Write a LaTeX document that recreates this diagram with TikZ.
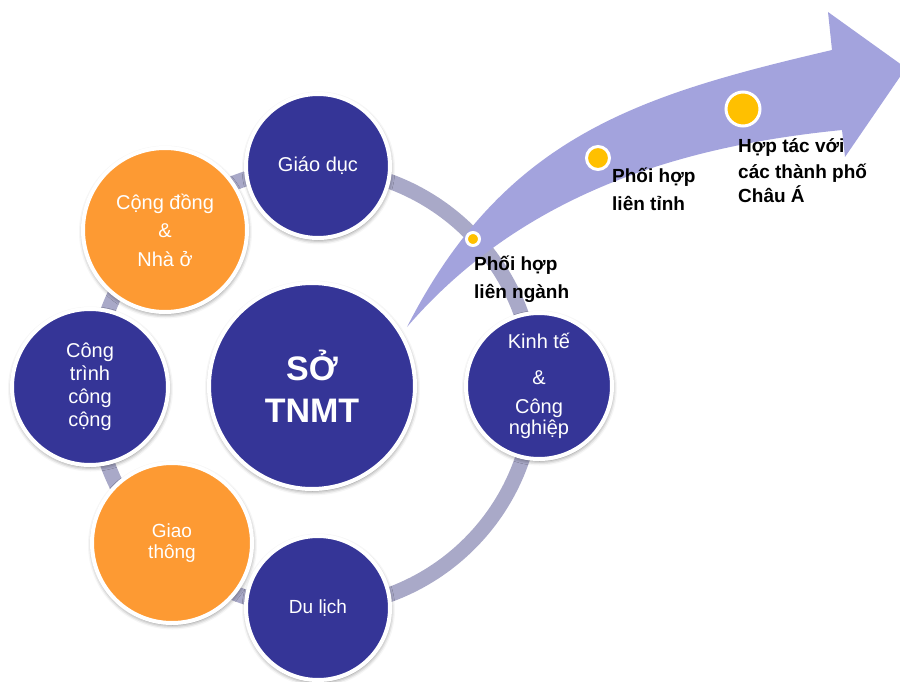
\documentclass[tikz,border=0pt]{standalone}
\usepackage{fontspec}
\setmainfont{Liberation Sans}
\usetikzlibrary{shadows.blur}
\definecolor{navy}{HTML}{353597}
\definecolor{orangec}{HTML}{FD9A33}
\definecolor{ringc}{HTML}{A9A9C8}
\definecolor{arrowc}{HTML}{A3A3DD}
\definecolor{dotc}{HTML}{FFC000}
\begin{document}
\begin{tikzpicture}[x=1pt,y=-1pt,
  bubble/.style={circle, draw=white, line width=4pt, text=white, align=center,
    inner sep=0pt,
    blur shadow={shadow xshift=0.5pt, shadow yshift=-2pt, shadow blur radius=4.5pt, shadow opacity=55}},
  bluebub/.style={bubble, fill=navy},
  orangebub/.style={bubble, fill=orangec},
  lab/.style={font=\fontsize{20}{23}\selectfont},
  point/.style={circle, fill=dotc, draw=white, inner sep=0pt},
  tag/.style={anchor=west, align=left, text=black, inner sep=0pt,
    font=\fontsize{19}{28}\bfseries\selectfont}]
\useasboundingbox (0,0) rectangle (900,682);
\clip (0,0) rectangle (900,682);

% ring linking the satellite bubbles
\draw[ringc, line width=15pt] (314,388) circle[radius=220pt];

% curved development arrow
\fill[arrowc] (407,327) .. controls (505,135) and (640,95) .. (832,50)
  -- (828,12) -- (906,68) -- (845,157) -- (842,130)
  .. controls (692,145) and (527,188) .. (407,327) -- cycle;

% bubbles
\node[bluebub, minimum size=144pt, lab] (giaoduc) at (318,166) {Giáo dục};
\node[orangebub, minimum size=164pt, font=\fontsize{20}{28.5}\selectfont] (congdong) at (165,230) {Cộng đồng\\\&\\Nhà ở};
\node[bluebub, minimum size=206pt, font=\fontsize{34}{42}\bfseries\selectfont] (so) at (312,386) {SỞ\\TNMT};
\node[bluebub, minimum size=156pt, font=\fontsize{20}{23}\selectfont] (congtrinh) at (90,387) {Công\\trình\\công\\cộng};
\node[orangebub, minimum size=160pt, font=\fontsize{19}{21}\selectfont] (giaothong) at (172,543) {Giao\\thông};
\node[bluebub, minimum size=144pt, font=\fontsize{19}{22}\selectfont] (dulich) at (318,608) {Du lịch};
\node[bluebub, minimum size=146pt, font=\fontsize{20}{21}\selectfont] (kinhte) at (539,386) {Kinh tế\\[15pt]\&\\[8pt]Công\\nghiệp};

% milestones on the arrow
\node[point, minimum size=13pt, line width=3pt] (p1) at (473,239) {};
\node[point, minimum size=23pt, line width=3pt] (p2) at (598,158) {};
\node[point, minimum size=34pt, line width=3pt] (p3) at (743,109) {};

\node[tag] (t1) at (474,279) {Phối hợp\\liên ngành};
\node[tag] (t2) at (612,189) {Phối hợp\\liên tỉnh};
\node[tag, font=\fontsize{19}{24}\bfseries\selectfont] (t3) at (738,171) {Hợp tác với\\[2pt]các thành phố\\Châu Á};
\end{tikzpicture}
\end{document}
